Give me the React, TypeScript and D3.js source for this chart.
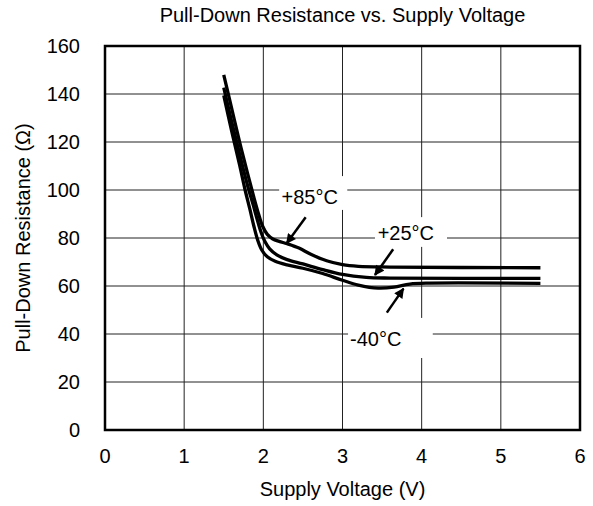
import React from "react";
import * as d3 from "d3";

// data (x = supply voltage V, y = resistance Ohm)
const xTicks = [0, 1, 2, 3, 4, 5, 6];
const yTicks = [0, 20, 40, 60, 80, 100, 120, 140, 160];

const volts85 = [1.5, 1.6, 1.7, 1.8, 1.88, 1.94, 1.99, 2.05, 2.12, 2.2, 2.3, 2.45, 2.6, 2.8, 3.0, 3.2, 3.6, 5.5];
const ohms85 = [148, 134, 120, 107, 97, 90, 85, 81.5, 79.6, 78.6, 77.6, 75.8, 73.2, 70.5, 68.9, 68.2, 67.9, 67.6];

const volts25 = [1.5, 1.6, 1.7, 1.8, 1.87, 1.92, 1.97, 2.02, 2.08, 2.17, 2.3, 2.5, 2.75, 3.0, 3.3, 3.6, 5.5];
const ohms25 = [142.7, 128.5, 115, 102, 94, 88, 82.5, 78.5, 75.5, 73, 71, 69.2, 66.8, 64.8, 63.6, 63.3, 63.2];

const voltsM40 = [1.5, 1.6, 1.7, 1.77, 1.83, 1.88, 1.93, 1.98, 2.05, 2.15, 2.3, 2.5, 2.75, 3.0, 3.2, 3.45, 3.65, 3.85, 4.1, 5.5];
const ohmsM40 = [139.4, 124.5, 110.5, 100, 92, 85, 79, 75, 72.2, 70.3, 68.8, 67.4, 65.2, 62.4, 60.4, 59.1, 59.5, 60.8, 61.2, 61.1];

// annotations: label text, label position, white box, arrow tail -> tip (data units)
const labels = ["+85°C", "+25°C", "-40°C"];
const labelPos = [[2.585, 94.2], [3.8, 79.2], [3.42, 35]];
const labelBox = [[2.2, 3.06, 91.7, 105.8], [3.41, 4.32, 76.3, 88.7], [3.07, 4.14, 30, 46.7]];
const arrows = [[2.535, 88.6, 2.295, 77.8], [3.64, 75.3, 3.41, 64.6], [3.56, 48.9, 3.77, 58.9]];

const W = 593;
const H = 506;
const M = { top: 46, right: 13, bottom: 76, left: 105 };
const font = "'Liberation Sans', Arial, sans-serif";

export default function App() {
  const x = d3.scaleLinear().domain([0, 6]).range([M.left, W - M.right]);
  const y = d3.scaleLinear().domain([0, 160]).range([H - M.bottom, M.top]);

  const line = d3
    .line<[number, number]>()
    .x((d) => x(d[0]))
    .y((d) => y(d[1]))
    .curve(d3.curveCatmullRom.alpha(0.5));

  const series = [
    d3.zip(volts85, ohms85),
    d3.zip(volts25, ohms25),
    d3.zip(voltsM40, ohmsM40),
  ] as [number, number][][];

  return (
    <svg width={W} height={H} style={{ position: "absolute", left: 0, top: 0 }} fontFamily={font}>
      <defs>
        <marker id="head" viewBox="0 0 10 10" refX="9" refY="5" markerWidth="4.4" markerHeight="4" orient="auto">
          <path d="M0,0 L10,5 L0,10 z" fill="#000" />
        </marker>
      </defs>
      <rect x={0} y={0} width={W} height={H} fill="#fff" />

      {/* grid */}
      {xTicks.slice(1, -1).map((t) => (
        <line key={"gx" + t} x1={x(t)} x2={x(t)} y1={y(0)} y2={y(160)} stroke="#222" strokeWidth={1} />
      ))}
      {yTicks.slice(1, -1).map((t) => (
        <line key={"gy" + t} x1={x(0)} x2={x(6)} y1={y(t)} y2={y(t)} stroke="#222" strokeWidth={1} />
      ))}

      {/* label boxes cover the grid */}
      {labelBox.map((b, i) => (
        <rect key={"b" + i} x={x(b[0])} y={y(b[3])} width={x(b[1]) - x(b[0])} height={y(b[2]) - y(b[3])} fill="#fff" />
      ))}

      {/* curves */}
      {series.map((s, i) => (
        <path key={"s" + i} d={line(s) ?? ""} fill="none" stroke="#000" strokeWidth={3.3} strokeLinecap="butt" />
      ))}

      {/* frame */}
      <rect x={x(0)} y={y(160)} width={x(6) - x(0)} height={y(0) - y(160)} fill="none" stroke="#000" strokeWidth={2.5} />

      {/* annotations */}
      {labels.map((t, i) => (
        <text key={"l" + i} x={x(labelPos[i][0])} y={y(labelPos[i][1])} textAnchor="middle" fontSize={20}>
          {t}
        </text>
      ))}
      {arrows.map((a, i) => (
        <line key={"a" + i} x1={x(a[0])} y1={y(a[1])} x2={x(a[2])} y2={y(a[3])} stroke="#000" strokeWidth={2.5} markerEnd="url(#head)" />
      ))}

      {/* ticks */}
      {xTicks.map((t) => (
        <text key={"tx" + t} x={x(t)} y={y(0) + 33} textAnchor="middle" fontSize={20}>
          {t}
        </text>
      ))}
      {yTicks.map((t) => (
        <text key={"ty" + t} x={x(0) - 25} y={y(t)} dy="0.35em" textAnchor="end" fontSize={20}>
          {t}
        </text>
      ))}

      {/* titles */}
      <text x={(x(0) + x(6)) / 2} y={22} textAnchor="middle" fontSize={20}>
        Pull-Down Resistance vs. Supply Voltage
      </text>
      <text x={(x(0) + x(6)) / 2} y={496} textAnchor="middle" fontSize={20}>
        Supply Voltage (V)
      </text>
      <text transform={`translate(30,${(y(0) + y(160)) / 2}) rotate(-90)`} textAnchor="middle" fontSize={20}>
        Pull-Down Resistance (Ω)
      </text>
    </svg>
  );
}
